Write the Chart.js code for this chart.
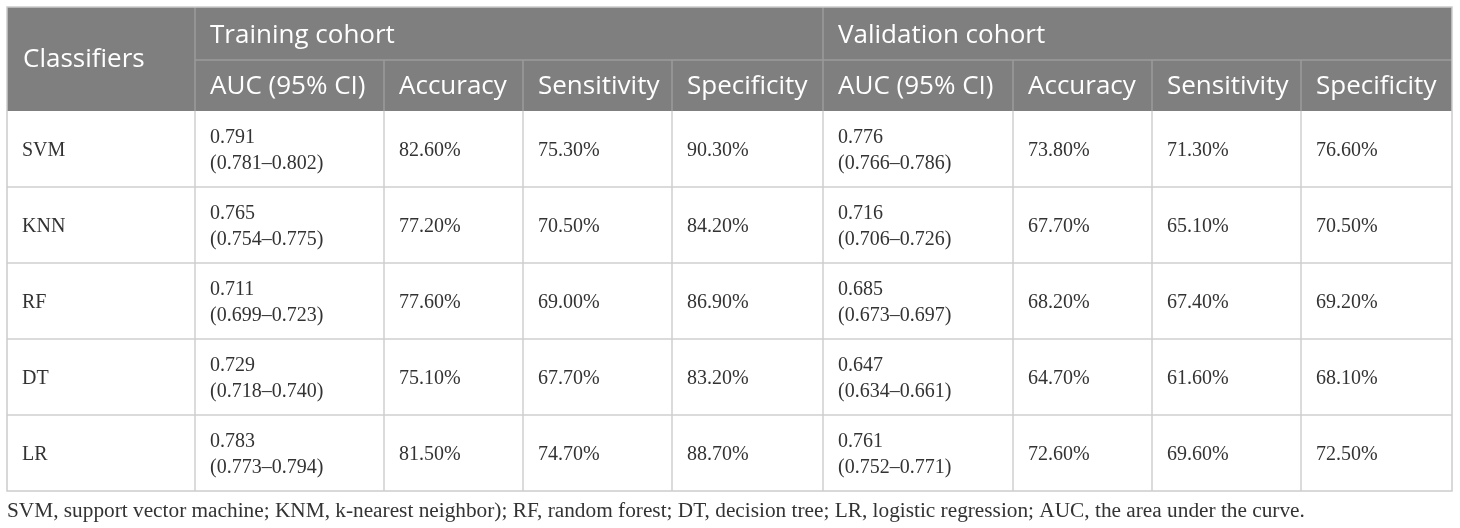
<!DOCTYPE html>
<html>
<head>
<meta charset="utf-8">
<script src="https://cdn.jsdelivr.net/npm/chart.js@4/dist/chart.umd.min.js"></script>
<style>
  html, body { margin: 0; padding: 0; background: #fff; }
  #wrap { width: 1460px; height: 528px; position: relative; }
</style>
</head>
<body>
<div id="wrap"><canvas id="tbl"></canvas></div>
<script>
const classifiers = ["SVM", "KNN", "RF", "DT", "LR"];
const trainAuc    = [0.791, 0.765, 0.711, 0.729, 0.783];
const trainCiLow  = [0.781, 0.754, 0.699, 0.718, 0.773];
const trainCiHigh = [0.802, 0.775, 0.723, 0.740, 0.794];
const trainAcc    = [82.6, 77.2, 77.6, 75.1, 81.5];
const trainSens   = [75.3, 70.5, 69.0, 67.7, 74.7];
const trainSpec   = [90.3, 84.2, 86.9, 83.2, 88.7];
const valAuc      = [0.776, 0.716, 0.685, 0.647, 0.761];
const valCiLow    = [0.766, 0.706, 0.673, 0.634, 0.752];
const valCiHigh   = [0.786, 0.726, 0.697, 0.661, 0.771];
const valAcc      = [73.8, 67.7, 68.2, 64.7, 72.6];
const valSens     = [71.3, 65.1, 67.4, 61.6, 69.6];
const valSpec     = [76.6, 70.5, 69.2, 68.1, 72.5];

const groupLabels = ["Training cohort", "Validation cohort"];
const metricLabels = ["AUC (95% CI)", "Accuracy", "Sensitivity", "Specificity"];
const footnote = "SVM, support vector machine; KNM, k-nearest neighbor); RF, random forest; DT, decision tree; LR, logistic regression; AUC, the area under the curve.";

// layout (scale units)
const colEdges = [7, 195, 384, 523, 672, 823, 1013, 1152, 1301, 1452];
const headEdges = [7, 60, 111];
const rowH = 76;

const pct = v => v.toFixed(2) + "%";
const aucCell = (a, lo, hi) => [a.toFixed(3), "(" + lo.toFixed(3) + "\u2013" + hi.toFixed(3) + ")"];

const tablePlugin = {
  id: 'tablePlugin',
  afterDraw(chart) {
    const ctx = chart.ctx;
    const X = v => chart.scales.x.getPixelForValue(v);
    const Y = v => chart.scales.y.getPixelForValue(v);
    const left = X(colEdges[0]), right = X(colEdges[colEdges.length - 1]);
    const top = Y(headEdges[0]), headBot = Y(headEdges[2]);
    const bottom = Y(headEdges[2] + rowH * classifiers.length);

    ctx.save();
    // header background
    ctx.fillStyle = "#7f7f7f";
    ctx.fillRect(left, top, right - left, headBot - top);

    // header lines
    ctx.strokeStyle = "#9c9c9c";
    ctx.lineWidth = 1.5;
    ctx.beginPath();
    ctx.moveTo(X(colEdges[1]), Y(headEdges[1])); ctx.lineTo(right, Y(headEdges[1]));
    ctx.moveTo(X(colEdges[1]), top); ctx.lineTo(X(colEdges[1]), headBot);
    ctx.moveTo(X(colEdges[5]), top); ctx.lineTo(X(colEdges[5]), headBot);
    for (let i = 2; i < colEdges.length - 1; i++) {
      if (i === 5) continue;
      ctx.moveTo(X(colEdges[i]), Y(headEdges[1])); ctx.lineTo(X(colEdges[i]), headBot);
    }
    ctx.stroke();

    // body grid
    ctx.strokeStyle = "#cfcfcf";
    ctx.beginPath();
    for (let r = 1; r < classifiers.length; r++) {
      const y = Y(headEdges[2] + rowH * r);
      ctx.moveTo(left, y); ctx.lineTo(right, y);
    }
    for (let i = 1; i < colEdges.length - 1; i++) {
      ctx.moveTo(X(colEdges[i]), headBot); ctx.lineTo(X(colEdges[i]), bottom);
    }
    ctx.stroke();
    // outer border
    ctx.strokeStyle = "#cccccc";
    ctx.strokeRect(left, top, right - left, bottom - top);

    // header text
    ctx.fillStyle = "#ffffff";
    ctx.font = "26px 'Open Sans', sans-serif";
    ctx.textBaseline = "middle";
    ctx.textAlign = "left";
    const pad = 15;
    ctx.fillText("Classifiers", X(colEdges[0]) + pad + 1, (top + headBot) / 2 + 1);
    ctx.fillText(groupLabels[0], X(colEdges[1]) + pad, (top + Y(headEdges[1])) / 2 + 2);
    ctx.fillText(groupLabels[1], X(colEdges[5]) + pad, (top + Y(headEdges[1])) / 2 + 2);
    for (let i = 0; i < 8; i++) {
      ctx.fillText(metricLabels[i % 4], X(colEdges[i + 1]) + pad, (Y(headEdges[1]) + headBot) / 2 + 1);
    }

    // body text
    ctx.fillStyle = "#333333";
    ctx.font = "20px 'Liberation Serif', 'Times New Roman', serif";
    classifiers.forEach((name, r) => {
      const yc = Y(headEdges[2] + rowH * r + rowH / 2) + 2;
      const cells = [
        [name],
        aucCell(trainAuc[r], trainCiLow[r], trainCiHigh[r]),
        [pct(trainAcc[r])], [pct(trainSens[r])], [pct(trainSpec[r])],
        aucCell(valAuc[r], valCiLow[r], valCiHigh[r]),
        [pct(valAcc[r])], [pct(valSens[r])], [pct(valSpec[r])]
      ];
      cells.forEach((lines, c) => {
        const x = X(colEdges[c]) + pad;
        if (lines.length === 1) {
          ctx.fillText(lines[0], x, yc);
        } else {
          ctx.fillText(lines[0], x, yc - 13);
          ctx.fillText(lines[1], x, yc + 13);
        }
      });
    });

    // footnote
    ctx.font = "21.3px 'Liberation Serif', 'Times New Roman', serif";
    ctx.fillText(footnote, X(7), Y(511));
    ctx.restore();
  }
};

new Chart(document.getElementById("tbl"), {
  type: 'scatter',
  data: { datasets: [] },
  options: {
    responsive: true,
    maintainAspectRatio: false,
    animation: false,
    layout: { padding: 0 },
    plugins: { legend: { display: false }, tooltip: { enabled: false } },
    scales: {
      x: { type: 'linear', min: 0, max: 1460, display: false },
      y: { type: 'linear', min: 0, max: 528, reverse: true, display: false }
    }
  },
  plugins: [tablePlugin]
});
</script>
</body>
</html>
